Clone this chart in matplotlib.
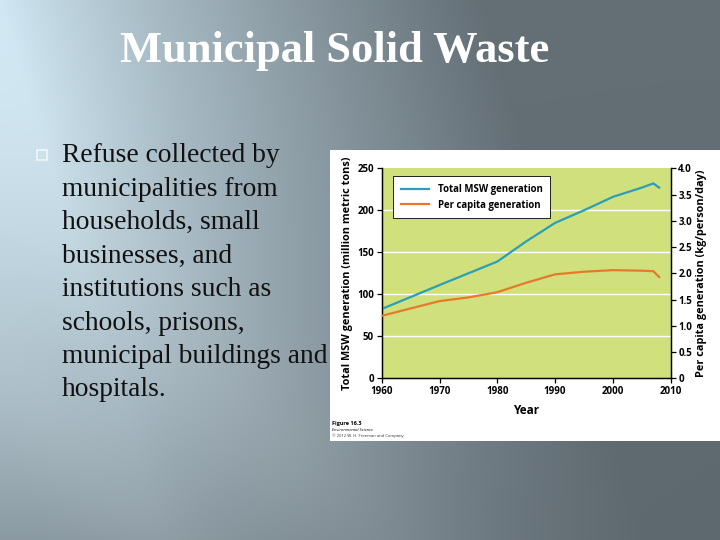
import numpy as np
import matplotlib
matplotlib.use("Agg")
import matplotlib.pyplot as plt
from matplotlib.lines import Line2D

# ---- data ----
years_total = [1960, 1970, 1975, 1980, 1985, 1990, 1995, 2000, 2005, 2007, 2008]
total_msw = [82.5, 111, 125, 139, 163, 185, 200, 216, 227, 232, 227]
years_pc = [1960, 1970, 1975, 1980, 1985, 1990, 1995, 2000, 2005, 2007, 2008]
per_capita = [1.19, 1.47, 1.54, 1.64, 1.82, 1.98, 2.03, 2.06, 2.05, 2.04, 1.93]
left_ticks = [0, 50, 100, 150, 200, 250]
right_ticks = [0, 0.5, 1.0, 1.5, 2.0, 2.5, 3.0, 3.5, 4.0]
right_ticklabels = ["0", "0.5", "1.0", "1.5", "2.0", "2.5", "3.0", "3.5", "4.0"]
x_ticks = [1960, 1970, 1980, 1990, 2000, 2010]
bullet_lines = ["Refuse collected by", "municipalities from", "households, small",
                "businesses, and", "institutions such as", "schools, prisons,",
                "municipal buildings and", "hospitals."]
title = "Municipal Solid Waste"

W, H = 720, 540
fig = plt.figure(figsize=(7.2, 5.4), dpi=100)

# ---- background gradient ----
bg = fig.add_axes([0, 0, 1, 1])
yy, xx = np.mgrid[0:H, 0:W].astype(float)
u = xx - 0.3 * yy
a = np.clip(u / 480, 0, 1) + 0.6 * (yy / H) ** 2 * (1 - np.clip(u / 480, 0, 1))
a = np.clip(a, 0, 1) ** 0.85
v = xx - 0.9 * yy
streak = 0.08 * np.exp(-((v + 120) / 110) ** 2) + 0.06 * np.exp(-((v + 330) / 80) ** 2)
light = np.array([208, 232, 244]) / 255
dark = np.array([100, 111, 118]) / 255
img = light[None, None, :] * (1 - a[..., None]) + dark[None, None, :] * a[..., None]
img = img + streak[..., None] * (1 - img)
img = img * (1 - 0.06 * (xx / W) * (yy / H))[..., None]
img = np.clip(img, 0, 1)
bg.imshow(img, extent=[0, W, H, 0], aspect="auto")
bg.set_xlim(0, W)
bg.set_ylim(H, 0)
bg.axis("off")

# ---- title ----
bg.text(335, 51, title, ha="center", va="center", color="white",
        fontsize=32, fontweight="bold", family="Liberation Serif")

# ---- bullet text ----
bg.plot([42], [155], marker="s", markersize=6.5, markerfacecolor="none",
        markeredgecolor="#f2f6f8", markeredgewidth=1.2)
for i, line in enumerate(bullet_lines):
    bg.text(62, 156 + i * 33.4, line, ha="left", va="center", color="#111111",
            fontsize=19.8, family="Liberation Serif")

# ---- white panel ----
bg.add_patch(plt.Rectangle((330, 150), 390, 291, facecolor="white", edgecolor="none"))
bg.text(332, 423, "Figure 16.3", fontsize=4, fontweight="bold", family="Open Sans", va="center")
bg.text(332, 430, "Environmental Science", fontsize=3, style="italic", family="Open Sans", va="center")
bg.text(332, 436, "\u00a9 2012 W. H. Freeman and Company", fontsize=3, family="Open Sans", va="center", color="#333333")

# ---- chart ----
fnt = "Open Sans"
ax = fig.add_axes([381.7 / W, 1 - 378.3 / H, 289 / W, 210 / H])
ax.set_facecolor("#cfe07c")
for y in [50, 100, 150, 200]:
    ax.axhline(y, color="white", lw=1.0, zorder=1)
ax.plot(years_total, total_msw, color="#2b9fb8", lw=1.6, zorder=3)
ax.set_xlim(1960, 2010)
ax.set_ylim(0, 250)
ax.set_xticks(x_ticks)
ax.set_yticks(left_ticks)
ax.spines["top"].set_visible(False)
for s in ["left", "bottom", "right"]:
    ax.spines[s].set_linewidth(1.0)
ax.tick_params(axis="both", direction="out", length=3.5, width=0.9, labelsize=7, pad=2)
for lbl in ax.get_xticklabels() + ax.get_yticklabels():
    lbl.set_fontweight("bold")
    lbl.set_family(fnt)
ax.set_ylabel("Total MSW generation (million metric tons)", fontsize=7.8,
              fontweight="bold", family=fnt, labelpad=3)
ax.set_xlabel("Year", fontsize=8.5, fontweight="bold", family=fnt, labelpad=5)

ax2 = ax.twinx()
ax2.plot(years_pc, per_capita, color="#e8792c", lw=1.6, zorder=3)
ax2.set_ylim(0, 4.0)
ax2.set_yticks(right_ticks)
ax2.set_yticklabels(right_ticklabels)
ax2.spines["top"].set_visible(False)
ax2.tick_params(axis="y", direction="out", length=3.5, width=0.9, labelsize=7, pad=2)
for lbl in ax2.get_yticklabels():
    lbl.set_fontweight("bold")
    lbl.set_family(fnt)
ax2.set_ylabel("Per capita generation (kg/person/day)", fontsize=7.8,
               fontweight="bold", family=fnt, labelpad=3)

handles = [Line2D([0], [0], color="#2b9fb8", lw=1.6),
           Line2D([0], [0], color="#e8792c", lw=1.6)]
leg = ax2.legend(handles, ["Total MSW generation", "Per capita generation"],
                 loc="upper left", bbox_to_anchor=(0.022, 0.985), fancybox=False,
                 framealpha=1, edgecolor="black", prop={"family": fnt, "weight": "bold", "size": 6.9},
                 handlelength=3.0, borderpad=0.8, labelspacing=0.5, handletextpad=0.9)
leg.get_frame().set_linewidth(0.6)

fig.savefig("out.png", dpi=100)
